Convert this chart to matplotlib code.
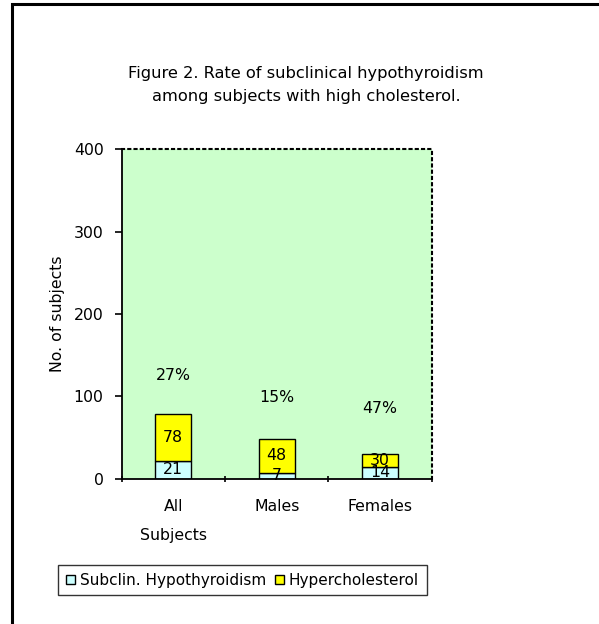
import numpy as np
import matplotlib
matplotlib.use('Agg')
import matplotlib.pyplot as plt
from matplotlib.patches import Rectangle, Patch

plt.rcParams['font.family'] = ['DejaVu Sans']

# Data
groups = ['All\nSubjects', 'Males', 'Females']
subclinical = [21, 7, 14]
hyperchol = [78, 48, 30]
pct_label_y = [125, 98, 85]   # where the percentage labels sit

top_part = [h - s for h, s in zip(hyperchol, subclinical)]
pct = [round(100 * s / h) for s, h in zip(subclinical, hyperchol)]

FS = 11.3

fig = plt.figure(figsize=(5.99, 6.24), dpi=100)

# outer frame
fig.patches.append(Rectangle((12 / 599, -0.05), 1.1, 1.05 - 4 / 624, transform=fig.transFigure,
                             fill=False, edgecolor='black', linewidth=2.2))

ax = fig.add_axes([0.203, 0.233, 0.518, 0.528])
ax.set_facecolor('#ccffcc')

x = np.arange(len(groups))
w = 0.35
ax.bar(x, subclinical, w, color='#ccffff', edgecolor='black', linewidth=1.0,
       label='Subclin. Hypothyroidism')
ax.bar(x, top_part, w, bottom=subclinical, color='#ffff00', edgecolor='black', linewidth=1.0,
       label='Hypercholesterol')

for i in range(len(groups)):
    ax.text(x[i], subclinical[i] / 2, str(subclinical[i]), ha='center', va='center', fontsize=FS)
    ax.text(x[i], (subclinical[i] + hyperchol[i]) / 2, str(hyperchol[i]), ha='center', va='center',
            fontsize=FS)
    ax.text(x[i], pct_label_y[i], f'{pct[i]}%', ha='center', va='center', fontsize=FS)

ax.set_xlim(-0.5, len(groups) - 0.5)
ax.set_ylim(0, 400)
ax.set_yticks([0, 100, 200, 300, 400])
ax.set_xticks(x)
ax.set_xticklabels(groups, fontsize=FS, linespacing=2.15)
ax.set_xticks(np.arange(len(groups) + 1) - 0.5, minor=True)
ax.tick_params(axis='x', which='major', length=0, pad=15)
ax.tick_params(axis='x', which='minor', length=5, direction='inout', width=1.2)
ax.tick_params(axis='y', length=5, width=1.2, labelsize=FS, pad=8)

for s in ['left', 'bottom']:
    ax.spines[s].set_linewidth(1.3)
for s in ['top', 'right']:
    ax.spines[s].set_linestyle((0, (1, 2)))
    ax.spines[s].set_linewidth(1.5)

ax.set_ylabel('No. of subjects', fontsize=FS, labelpad=6)

fig.text(0.511, 0.864, 'Figure 2. Rate of subclinical hypothyroidism\namong subjects with high cholesterol.',
         ha='center', va='center', fontsize=FS + 0.4, linespacing=1.7)

handles = [Patch(facecolor='#ccffff', edgecolor='black', label='Subclin. Hypothyroidism'),
           Patch(facecolor='#ffff00', edgecolor='black', label='Hypercholesterol')]
leg = fig.legend(handles=handles, loc='center', bbox_to_anchor=(0.405, 0.07), ncol=2,
                 fontsize=FS - 0.3, frameon=True, fancybox=False, edgecolor='black',
                 handlelength=0.6, handleheight=0.6, handletextpad=0.3, columnspacing=0.6,
                 borderpad=0.5)
leg.get_frame().set_linewidth(1.0)

fig.savefig('out.png', dpi=100)
